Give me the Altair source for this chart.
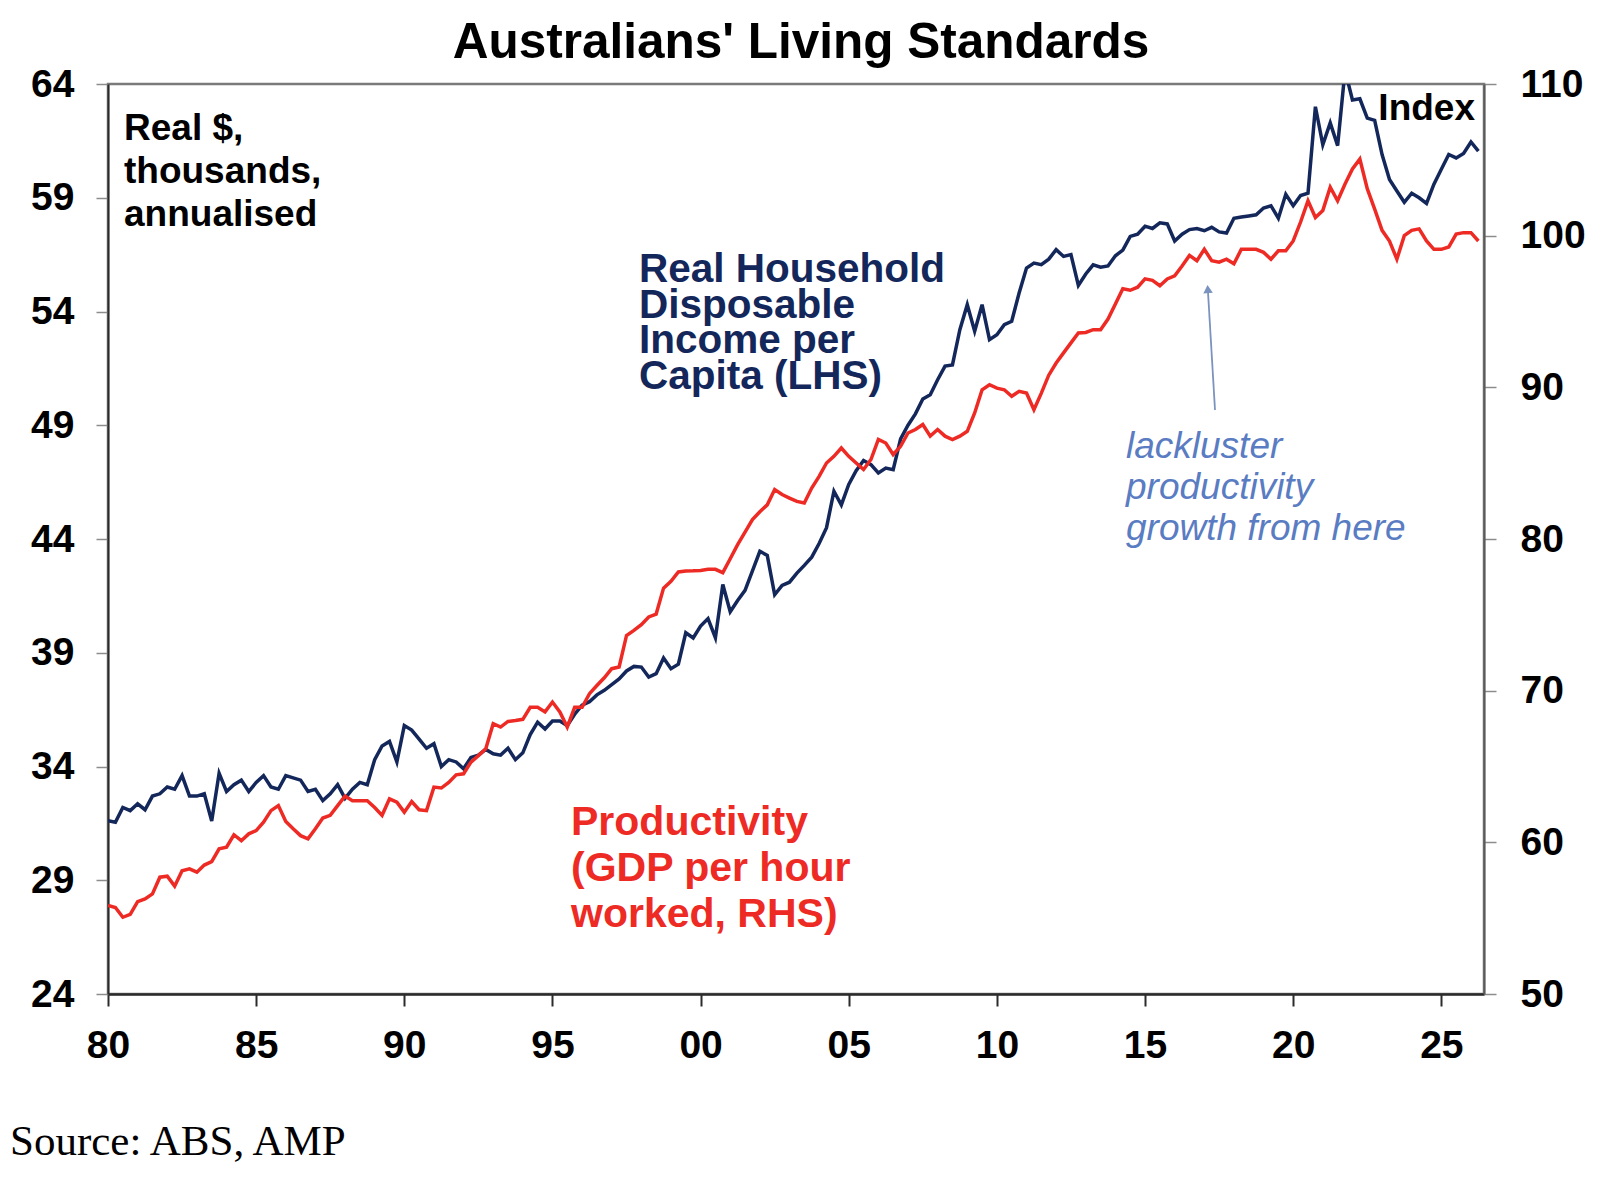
import altair as alt
import pandas as pd

# Quarterly series starting 1980 Q1, four values per row (one row per year)
income_k = [  # real household disposable income per capita, $'000 annualised (LHS)
    31.62, 31.55, 32.20, 32.06,   # 1980
    32.36, 32.10, 32.70, 32.80,   # 1981
    33.10, 33.00, 33.60, 32.70,   # 1982
    32.70, 32.80, 31.60, 33.70,   # 1983
    32.90, 33.20, 33.40, 32.90,   # 1984
    33.30, 33.60, 33.10, 33.00,   # 1985
    33.60, 33.50, 33.40, 32.90,   # 1986
    33.00, 32.50, 32.80, 33.20,   # 1987
    32.60, 33.00, 33.30, 33.20,   # 1988
    34.30, 34.90, 35.10, 34.20,   # 1989
    35.80, 35.60, 35.20, 34.80,   # 1990
    35.00, 34.00, 34.30, 34.20,   # 1991
    33.90, 34.40, 34.50, 34.75,   # 1992
    34.56, 34.50, 34.80, 34.30,   # 1993
    34.60, 35.40, 35.95, 35.65,   # 1994
    36.00, 36.00, 35.80, 36.30,   # 1995
    36.70, 36.85, 37.15, 37.35,   # 1996
    37.60, 37.85, 38.20, 38.40,   # 1997
    38.37, 37.93, 38.08, 38.77,   # 1998
    38.30, 38.50, 39.88, 39.65,   # 1999
    40.17, 40.50, 39.66, 42.00,   # 2000
    40.80, 41.30, 41.74, 42.60,   # 2001
    43.46, 43.28, 41.55, 41.96,   # 2002
    42.10, 42.50, 42.84, 43.20,   # 2003
    43.80, 44.50, 46.10, 45.50,   # 2004
    46.40, 47.00, 47.45, 47.27,   # 2005
    46.90, 47.12, 47.05, 48.40,   # 2006
    49.00, 49.50, 50.15, 50.34,   # 2007
    51.00, 51.60, 51.65, 53.20,   # 2008
    54.30, 53.13, 54.30, 52.76,   # 2009
    52.98, 53.42, 53.57, 54.81,   # 2010
    55.91, 56.13, 56.06, 56.30,   # 2011
    56.72, 56.42, 56.50, 55.15,   # 2012
    55.65, 56.05, 55.95, 56.00,   # 2013
    56.45, 56.70, 57.30, 57.40,   # 2014
    57.75, 57.65, 57.90, 57.85,   # 2015
    57.10, 57.40, 57.60, 57.65,   # 2016
    57.55, 57.70, 57.50, 57.45,   # 2017
    58.10, 58.15, 58.20, 58.25,   # 2018
    58.55, 58.65, 58.10, 59.15,   # 2019
    58.65, 59.10, 59.20, 63.00,   # 2020
    61.33, 62.29, 61.29, 64.60,   # 2021
    63.30, 63.35, 62.50, 62.40,   # 2022
    60.90, 59.80, 59.30, 58.80,   # 2023
    59.20, 59.00, 58.75, 59.60,   # 2024
    60.25, 60.90, 60.75, 60.95,   # 2025
    61.45, 61.05,                 # 2026
]

productivity_idx = [  # GDP per hour worked, index (RHS)
    55.84, 55.70, 55.06, 55.25,   # 1980
    56.09, 56.27, 56.60, 57.70,   # 1981
    57.77, 57.11, 58.13, 58.25,   # 1982
    58.03, 58.50, 58.73, 59.57,   # 1983
    59.68, 60.50, 60.11, 60.56,   # 1984
    60.77, 61.33, 62.09, 62.42,   # 1985
    61.37, 60.89, 60.44, 60.23,   # 1986
    60.89, 61.60, 61.78, 62.42,   # 1987
    63.05, 62.75, 62.75, 62.75,   # 1988
    62.30, 61.78, 62.87, 62.65,   # 1989
    61.99, 62.69, 62.15, 62.09,   # 1990
    63.64, 63.58, 63.95, 64.45,   # 1991
    64.52, 65.29, 65.72, 66.17,   # 1992
    67.82, 67.60, 67.97, 68.03,   # 1993
    68.11, 68.90, 68.90, 68.60,   # 1994
    69.25, 68.60, 67.60, 68.90,   # 1995
    68.90, 69.80, 70.34, 70.85,   # 1996
    71.45, 71.56, 73.64, 73.97,   # 1997
    74.35, 74.86, 75.05, 76.76,   # 1998
    77.21, 77.83, 77.89, 77.90,   # 1999
    77.93, 78.00, 78.00, 77.78,   # 2000
    78.70, 79.63, 80.45, 81.28,   # 2001
    81.80, 82.25, 83.26, 82.93,   # 2002
    82.70, 82.48, 82.37, 83.36,   # 2003
    84.13, 85.01, 85.45, 86.00,   # 2004
    85.45, 85.01, 84.58, 85.24,   # 2005
    86.56, 86.33, 85.57, 86.11,   # 2006
    86.99, 87.22, 87.55, 86.78,   # 2007
    87.22, 86.78, 86.56, 86.78,   # 2008
    87.10, 88.31, 89.84, 90.17,   # 2009
    89.95, 89.84, 89.41, 89.74,   # 2010
    89.62, 88.52, 89.62, 90.80,   # 2011
    91.60, 92.27, 92.93, 93.59,   # 2012
    93.62, 93.80, 93.80, 94.50,   # 2013
    95.50, 96.50, 96.40, 96.60,   # 2014
    97.15, 97.05, 96.70, 97.15,   # 2015
    97.35, 98.00, 98.70, 98.35,   # 2016
    99.10, 98.35, 98.25, 98.45,   # 2017
    98.15, 99.10, 99.10, 99.10,   # 2018
    98.90, 98.45, 99.00, 99.00,   # 2019
    99.65, 100.90, 102.30, 101.20,  # 2020
    101.65, 103.20, 102.30, 103.40,  # 2021
    104.40, 105.05, 103.10, 101.75,  # 2022
    100.35, 99.65, 98.45, 100.00,   # 2023
    100.35, 100.45, 99.65, 99.10,   # 2024
    99.10, 99.25, 100.10, 100.20,   # 2025
    100.20, 99.65,                  # 2026
]

year_ticks = [1980, 1985, 1990, 1995, 2000, 2005, 2010, 2015, 2020, 2025]
lhs_ticks = [24, 29, 34, 39, 44, 49, 54, 59, 64]
rhs_ticks = [50, 60, 70, 80, 90, 100, 110]

title_text = "Australians' Living Standards"
lhs_unit_lines = ["Real $,", "thousands,", "annualised"]
rhs_unit_text = "Index"
income_label_lines = ["Real Household", "Disposable", "Income per", "Capita (LHS)"]
productivity_label_lines = ["Productivity", "(GDP per hour", "worked, RHS)"]
note_lines = ["lackluster", "productivity", "growth from here"]
source_text = "Source: ABS, AMP"

NAVY = "#13275b"
RED = "#ee2a24"
NOTE_BLUE = "#5a7cc2"
ARROW_BLUE = "#7b93bf"
FONT = "Liberation Sans"

W, H = 1376, 910

quarters = [1980 + 0.25 * i for i in range(len(income_k))]
df = pd.DataFrame({"t": quarters, "income": income_k, "productivity": productivity_idx})

label_style = dict(
    labelFont=FONT,
    labelFontSize=39,
    labelFontWeight="bold",
    labelColor="#000000",
    labelFlush=False,
    labelOverlap=False,
    grid=False,
    title=None,
    tickSize=12,
)

x_enc = alt.X(
    "t:Q",
    scale=alt.Scale(domain=[1980, 2026.44], nice=False, zero=False),
    axis=alt.Axis(
        values=year_ticks,
        labelExpr="substring(toString(datum.value), 2, 4)",
        domainColor="#2b2b2b",
        domainWidth=2.5,
        tickColor="#2b2b2b",
        tickWidth=2,
        labelPadding=20,
        **label_style,
    ),
)

income_line = alt.Chart(df).mark_line(color=NAVY, strokeWidth=3.5, clip=True).encode(
    x=x_enc,
    y=alt.Y(
        "income:Q",
        scale=alt.Scale(domain=[24, 64], nice=False, zero=False),
        axis=alt.Axis(orient="left", values=lhs_ticks, domainColor="#2b2b2b",
                      domainWidth=2, tickColor="#8c8c8c", tickWidth=1.5,
                      labelPadding=22, **label_style),
    ),
)

productivity_line = alt.Chart(df).mark_line(color=RED, strokeWidth=3.5, clip=True).encode(
    x=x_enc,
    y=alt.Y(
        "productivity:Q",
        scale=alt.Scale(domain=[50, 110], nice=False, zero=False),
        axis=alt.Axis(orient="right", values=rhs_ticks, domainColor="#5a5a5a",
                      domainWidth=2, tickColor="#8c8c8c", tickWidth=1.5,
                      labelPadding=24, **label_style),
    ),
)

one = pd.DataFrame({"k": [0]})


def note(text, x, y, size, color="#000000", weight="bold", style="normal",
         align="left", line_height=None, font=FONT):
    kw = dict(align=align, baseline="alphabetic", font=font, fontSize=size,
              fontWeight=weight, fontStyle=style, color=color)
    if line_height is not None:
        kw["lineHeight"] = line_height
    return alt.Chart(one).mark_text(**kw).encode(
        x=alt.value(x), y=alt.value(y), text=alt.value(text)
    )


title = note(title_text, 693, -26, 49.5, align="center")
lhs_unit = note(lhs_unit_lines, 16, 56, 37, line_height=43)
rhs_unit = note(rhs_unit_text, 1367, 36, 37, align="right")
income_label = note(income_label_lines, 531, 198, 40.5, color=NAVY, line_height=35.5)
productivity_label = note(productivity_label_lines, 463, 751, 41, color=RED, line_height=45.8)
slow_note = note(note_lines, 1018, 374, 37, color=NOTE_BLUE, weight="normal",
                 style="italic", line_height=41)
source = note(source_text, -98, 1071, 43, weight="normal", font="Liberation Serif")

arrow_shaft = alt.Chart(one).mark_rule(color=ARROW_BLUE, strokeWidth=1.8).encode(
    x=alt.value(1107), y=alt.value(326), x2=alt.value(1100), y2=alt.value(208)
)
arrow_head = alt.Chart(one).mark_point(
    shape="triangle-up", filled=True, color=ARROW_BLUE, opacity=1, size=90, angle=356
).encode(x=alt.value(1099.8), y=alt.value(205))

chart = (
    alt.layer(
        income_line,
        productivity_line,
        arrow_shaft,
        arrow_head,
        title,
        lhs_unit,
        rhs_unit,
        income_label,
        productivity_label,
        slow_note,
        source,
    )
    .resolve_scale(y="independent")
    .properties(
        width=W,
        height=H,
        autosize=alt.AutoSizeParams(type="none"),
        padding={"left": 108, "top": 84, "right": 133, "bottom": 187},
        background="#ffffff",
    )
    .configure_view(stroke="#7a7a7a", strokeWidth=2.5)
)

chart.save("out.html", embed_options={"renderer": "svg", "actions": False})
